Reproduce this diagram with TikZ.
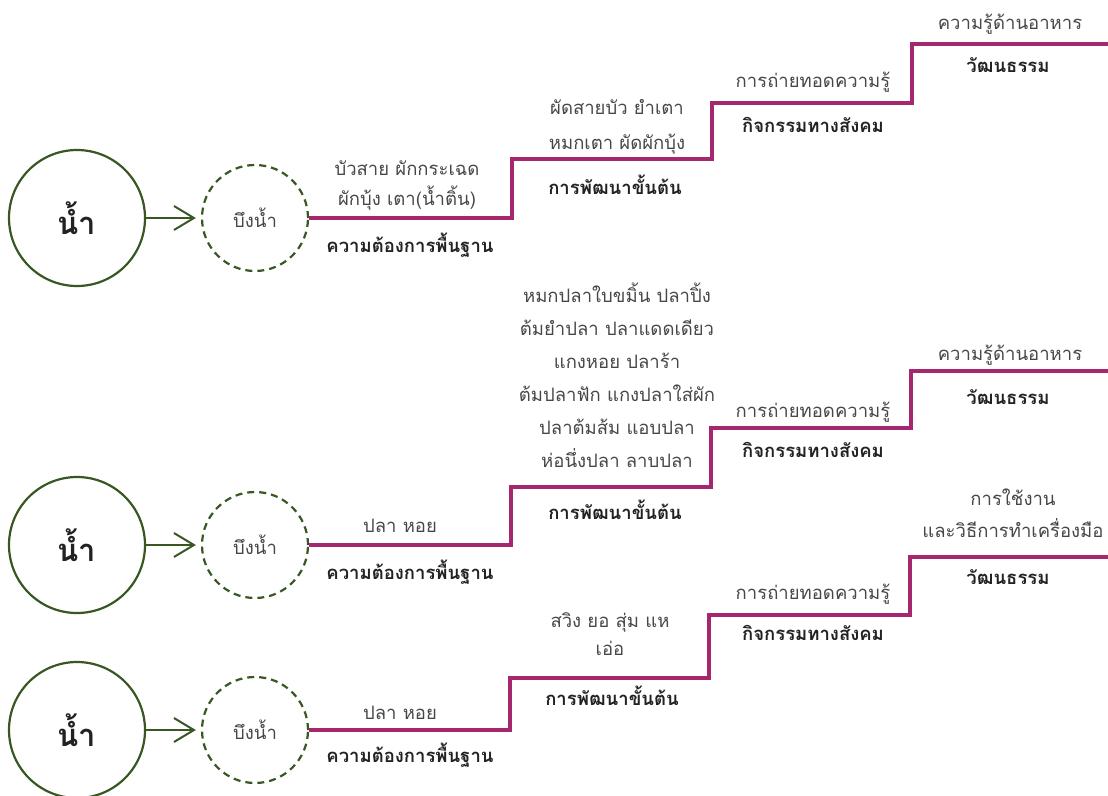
\documentclass[tikz,border=0pt]{standalone}
\usepackage{fontspec}
\newfontfamily\thaifont[Script=Thai]{Loma}
\usetikzlibrary{arrows.meta}

\definecolor{namgreen}{HTML}{385723}
\definecolor{stairpink}{HTML}{A5286E}
\definecolor{textgrey}{HTML}{474747}
\definecolor{titleblack}{HTML}{222222}

\begin{document}
\begin{tikzpicture}[x=1pt, y=-1pt,
    namcircle/.style={circle, draw=namgreen, line width=2.2pt, minimum size=136pt, inner sep=0pt,
        font=\thaifont\bfseries\fontsize{31}{36}\selectfont, text=titleblack},
    buengcircle/.style={circle, draw=namgreen, line width=2.2pt, dash pattern=on 7pt off 5pt,
        minimum size=106pt, inner sep=0pt, font=\thaifont\fontsize{18.5}{20}\selectfont, text=textgrey},
    flow/.style={namgreen, line width=2pt, -{Straight Barb[length=20pt, width=24pt]}, shorten >=5pt},
    stair/.style={stairpink, line width=3.5pt},
    itemtext/.style={anchor=base, align=center, inner sep=0pt, text=textgrey,
        font=\thaifont\fontsize{18.5}{33}\selectfont},
    stagetext/.style={anchor=base, inner sep=0pt, text=titleblack,
        font=\thaifont\bfseries\fontsize{18.5}{33}\selectfont}]
    \useasboundingbox (0,0) rectangle (1108,795);

    \node[namcircle] (nam1) at (77,218) {น้ำ};
    \node[buengcircle] (bueng1) at (255,218) {บึงน้ำ};
    \draw[flow] (nam1) -- (bueng1);
    \coordinate (a1) at (512,218);
    \coordinate (b1) at (712,159);
    \coordinate (c1) at (912,103);
    \coordinate (d1) at (1108,44);
    \draw[stair] (bueng1.east) -- (a1) |- (b1) |- (c1) |- (d1);
    \node[itemtext, font=\thaifont\fontsize{18.5}{30}\selectfont] (need1) at (407,205) {บัวสาย ผักกระเฉด\\ผักบุ้ง เตา(น้ำติ้น)};
    \node[stagetext] (needt1) at (410,252) {ความต้องการพื้นฐาน};
    \node[itemtext, font=\thaifont\fontsize{18.5}{35}\selectfont] (dev1) at (617,149) {ผัดสายบัว ยำเตา\\หมกเตา ผัดผักบุ้ง};
    \node[stagetext] (devt1) at (615,194) {การพัฒนาขั้นต้น};
    \node[itemtext] (soc1) at (813,87) {การถ่ายทอดความรู้};
    \node[stagetext] (soct1) at (813,132) {กิจกรรมทางสังคม};
    \node[itemtext] (cul1) at (1010,29) {ความรู้ด้านอาหาร};
    \node[stagetext] (cult1) at (1008,72) {วัฒนธรรม};

    \node[namcircle] (nam2) at (77,545) {น้ำ};
    \node[buengcircle] (bueng2) at (255,545) {บึงน้ำ};
    \draw[flow] (nam2) -- (bueng2);
    \coordinate (a2) at (511,545);
    \coordinate (b2) at (711,487);
    \coordinate (c2) at (911,428);
    \coordinate (d2) at (1108,371);
    \draw[stair] (bueng2.east) -- (a2) |- (b2) |- (c2) |- (d2);
    \node[itemtext] (need2) at (400,532) {ปลา หอย};
    \node[stagetext] (needt2) at (410,579) {ความต้องการพื้นฐาน};
    \node[itemtext] (dev2) at (617,467) {หมกปลาใบขมิ้น ปลาปิ้ง\\ต้มยำปลา ปลาแดดเดียว\\แกงหอย ปลาร้า\\ต้มปลาฟัก แกงปลาใส่ผัก\\ปลาต้มส้ม แอบปลา\\ห่อนึ่งปลา ลาบปลา};
    \node[stagetext] (devt2) at (615,519) {การพัฒนาขั้นต้น};
    \node[itemtext] (soc2) at (813,417) {การถ่ายทอดความรู้};
    \node[stagetext] (soct2) at (813,457) {กิจกรรมทางสังคม};
    \node[itemtext] (cul2) at (1010,360) {ความรู้ด้านอาหาร};
    \node[stagetext] (cult2) at (1008,404) {วัฒนธรรม};

    \node[namcircle] (nam3) at (77,730) {น้ำ};
    \node[buengcircle] (bueng3) at (255,730) {บึงน้ำ};
    \draw[flow] (nam3) -- (bueng3);
    \coordinate (a3) at (510,730);
    \coordinate (b3) at (709,678);
    \coordinate (c3) at (910,615);
    \coordinate (d3) at (1108,557);
    \draw[stair] (bueng3.east) -- (a3) |- (b3) |- (c3) |- (d3);
    \node[itemtext] (need3) at (400,719) {ปลา หอย};
    \node[stagetext] (needt3) at (410,762) {ความต้องการพื้นฐาน};
    \node[itemtext, font=\thaifont\fontsize{18.5}{28}\selectfont] (dev3) at (610,655) {สวิง ยอ สุ่ม แห\\เอ่อ};
    \node[stagetext] (devt3) at (612,705) {การพัฒนาขั้นต้น};
    \node[itemtext] (soc3) at (813,599) {การถ่ายทอดความรู้};
    \node[stagetext] (soct3) at (813,640) {กิจกรรมทางสังคม};
    \node[itemtext, font=\thaifont\fontsize{18.5}{32}\selectfont] (cul3) at (1013,537) {การใช้งาน\\และวิธีการทำเครื่องมือ};
    \node[stagetext] (cult3) at (1008,584) {วัฒนธรรม};
\end{tikzpicture}
\end{document}
